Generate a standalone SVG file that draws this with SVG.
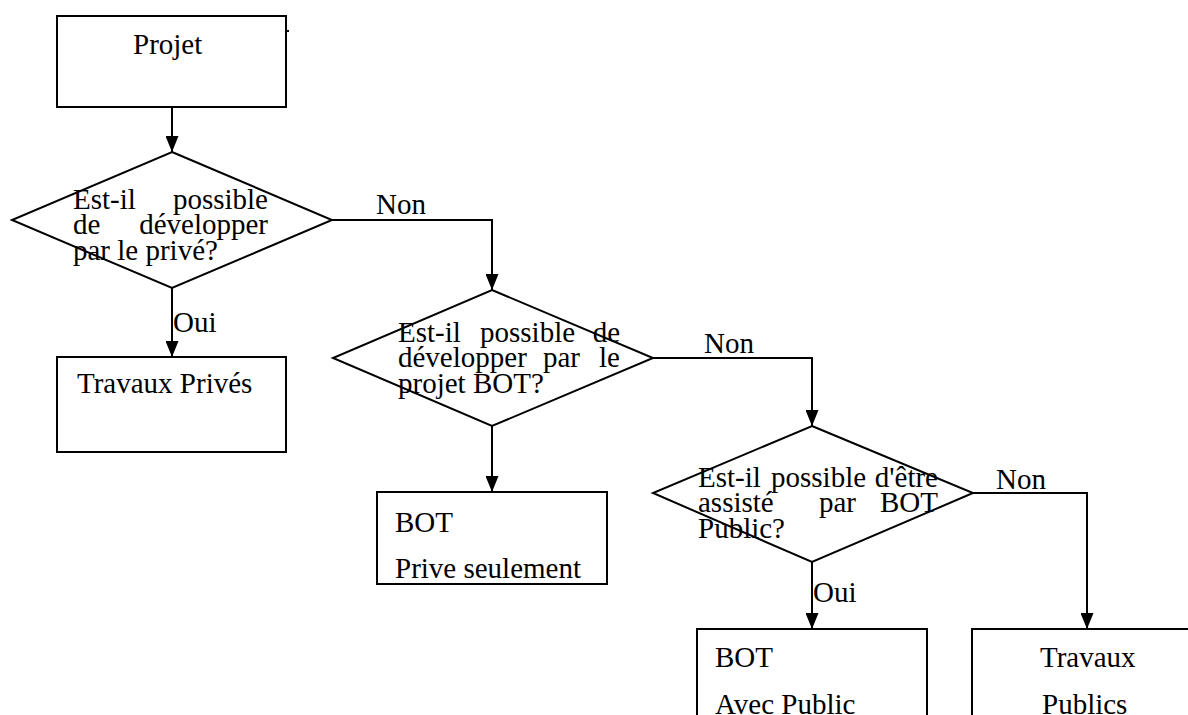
<svg xmlns="http://www.w3.org/2000/svg" width="1188" height="715" viewBox="0 0 1188 715">
<style>
.box{fill:#fff;stroke:#000;stroke-width:2}
.dia{fill:#fff;stroke:#000;stroke-width:2}
.ln{fill:none;stroke:#000;stroke-width:2}
.e{text-anchor:end}
</style>
<defs>
<marker id="ah" markerUnits="userSpaceOnUse" markerWidth="16" markerHeight="13" refX="16" refY="6.5" orient="auto" viewBox="0 0 16 13">
<path d="M0,0 L16,6.5 L0,13 Z" fill="#000"/>
</marker>
</defs>
<rect width="1188" height="715" fill="#fff"/>
<g font-family="Liberation Serif, Tinos, Times New Roman, DejaVu Serif, serif" font-size="29" fill="#000">
<g id="connectors">
<line class="ln" x1="172" y1="107" x2="172" y2="152" marker-end="url(#ah)"/>
<polyline class="ln" points="332,220 492,220 492,290" marker-end="url(#ah)"/>
<line class="ln" x1="172" y1="288" x2="172" y2="357" marker-end="url(#ah)"/>
<polyline class="ln" points="653,358 812,358 812,426" marker-end="url(#ah)"/>
<line class="ln" x1="492" y1="426" x2="492" y2="492" marker-end="url(#ah)"/>
<polyline class="ln" points="973,493 1087,493 1087,629" marker-end="url(#ah)"/>
<line class="ln" x1="812" y1="562" x2="812" y2="629" marker-end="url(#ah)"/>
<text x="376" y="214">Non</text>
<text x="173" y="332">Oui</text>
<text x="704" y="353">Non</text>
<text x="996" y="489">Non</text>
<text x="813" y="602">Oui</text>
</g>
<g id="projet">
<rect class="box" x="57" y="16" width="229" height="91"/>
<line class="ln" x1="286" y1="31" x2="289" y2="31"/>
<text x="133" y="54">Projet</text>
</g>
<g id="q1">
<polygon class="dia" points="172,152 332,220 172,288 12,220"/>
<text x="73" y="209">Est-il</text>
<text class="e" x="268" y="209">possible</text>
<text x="73" y="234">de</text>
<text class="e" x="268" y="234">développer</text>
<text x="73" y="260">par le privé?</text>
</g>
<g id="travaux-prives">
<rect class="box" x="57" y="357" width="229" height="95"/>
<text x="77" y="393">Travaux Privés</text>
</g>
<g id="q2">
<polygon class="dia" points="492,290 653,358 492,426 333,358"/>
<text x="398" y="342">Est-il</text>
<text x="480" y="342">possible</text>
<text class="e" x="620" y="342">de</text>
<text x="398" y="367">développer</text>
<text x="543" y="367">par</text>
<text class="e" x="620" y="367">le</text>
<text x="398" y="393">projet BOT?</text>
</g>
<g id="bot-prive">
<rect class="box" x="377" y="492" width="230" height="92"/>
<text x="395" y="532">BOT</text>
<text x="395" y="578">Prive seulement</text>
</g>
<g id="q3">
<polygon class="dia" points="812,426 973,493 812,562 653,493"/>
<text x="698" y="487">Est-il</text>
<text x="771" y="487">possible</text>
<text class="e" x="938" y="487">d'être</text>
<text x="698" y="512">assisté</text>
<text x="819" y="512">par</text>
<text class="e" x="938" y="512">BOT</text>
<text x="698" y="538">Public?</text>
</g>
<g id="bot-public">
<rect class="box" x="697" y="629" width="230" height="100"/>
<text x="715" y="667">BOT</text>
<text x="715" y="714">Avec Public</text>
</g>
<g id="travaux-publics">
<rect class="box" x="972" y="629" width="230" height="100"/>
<text x="1040" y="667">Travaux</text>
<text x="1042" y="714">Publics</text>
</g>
</g>
</svg>
